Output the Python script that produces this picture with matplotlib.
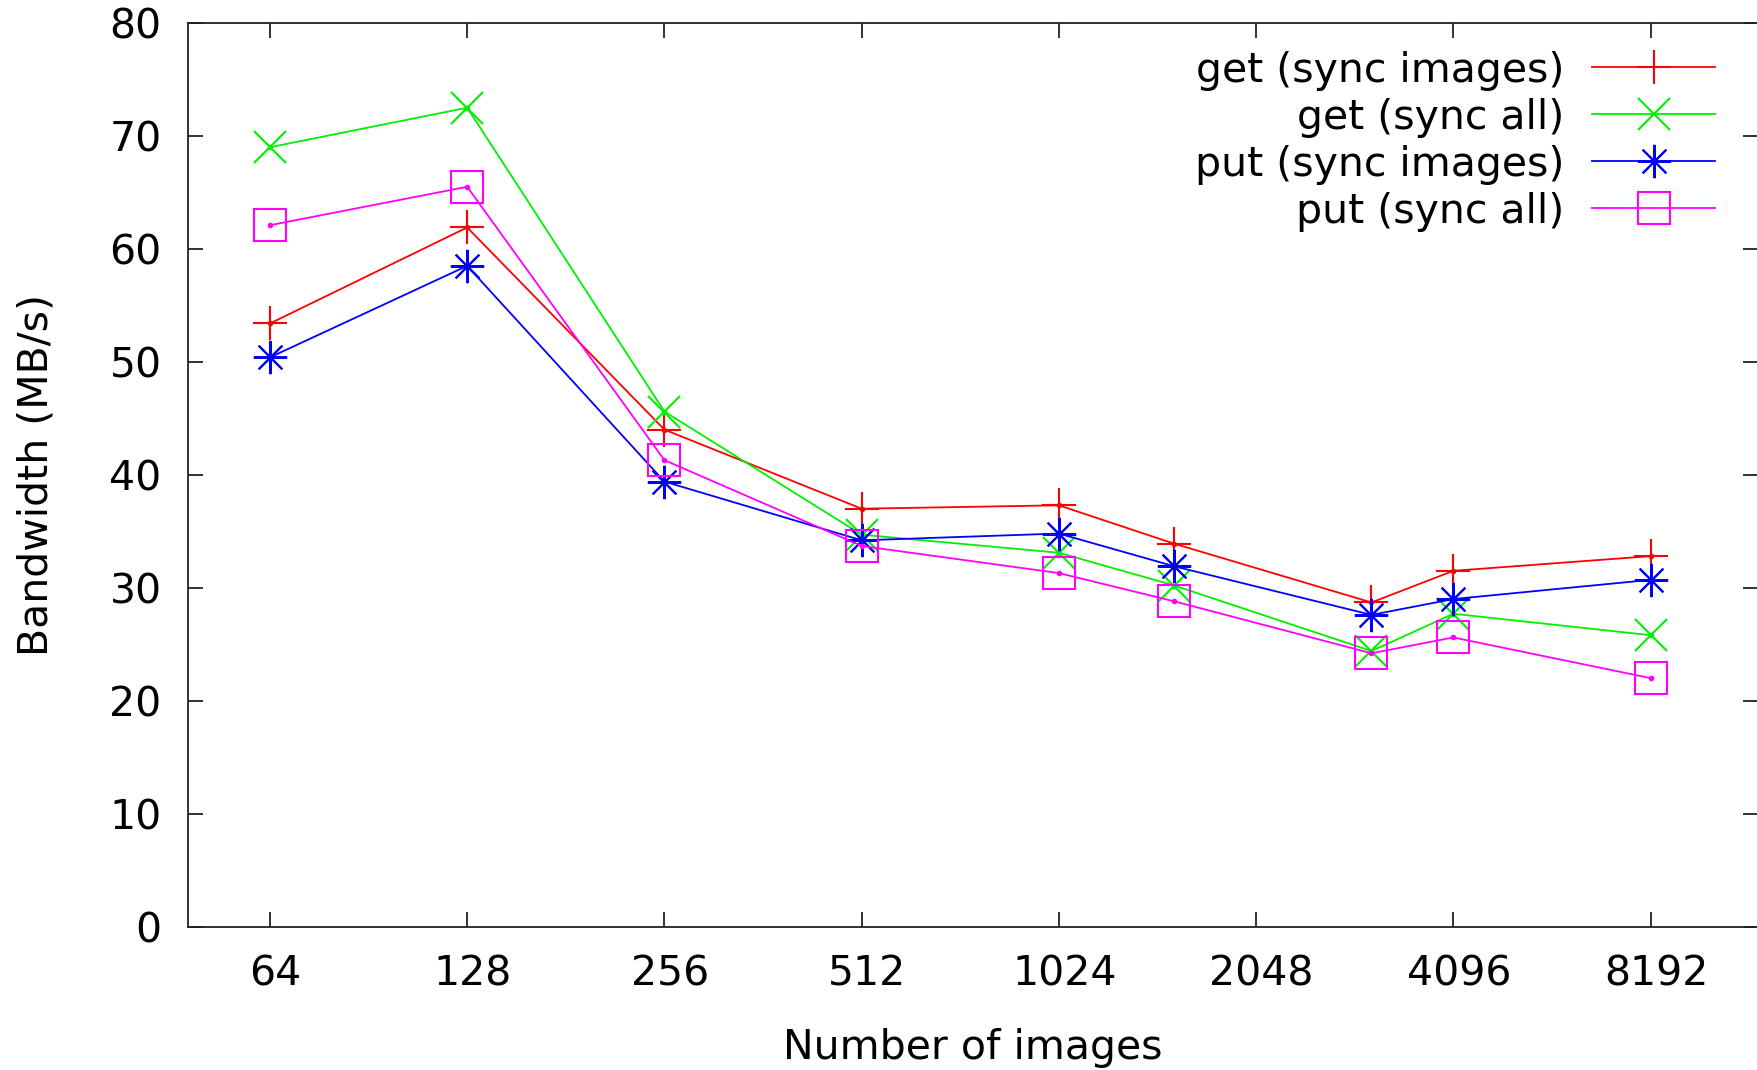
import matplotlib
matplotlib.use("Agg")
import matplotlib.pyplot as plt
from matplotlib.ticker import FixedLocator, FixedFormatter, NullLocator
from matplotlib.transforms import ScaledTranslation

# number of images (x) and bandwidth in MB/s per series
images = [64, 128, 256, 512, 1024, 1536, 3072, 4096, 8192]
get_sync_images = [53.4, 61.9, 44.0, 37.0, 37.3, 33.9, 28.7, 31.5, 32.8]
get_sync_all = [69.0, 72.5, 45.6, 34.7, 33.1, 30.2, 24.4, 27.7, 25.8]
put_sync_images = [50.4, 58.5, 39.4, 34.2, 34.8, 31.9, 27.6, 29.0, 30.7]
put_sync_all = [62.1, 65.5, 41.3, 33.7, 31.3, 28.8, 24.2, 25.6, 22.0]

xticks = [64, 128, 256, 512, 1024, 2048, 4096, 8192]
xtick_labels = [str(v) for v in xticks]
yticks = list(range(0, 81, 10))

FS = 29.5

plt.rcParams["font.family"] = "DejaVu Sans"
fig = plt.figure(figsize=(17.58, 10.70), dpi=100)
ax = fig.add_axes([0.107, 0.134, 0.893, 0.8445])

series = [
    ("get (sync images)", get_sync_images, "#ff0000", "+", 24),
    ("get (sync all)", get_sync_all, "#00f000", "x", 23),
    ("put (sync images)", put_sync_images, "#0000ff", (8, 2, 0), 24),
    ("put (sync all)", put_sync_all, "#ff00ff", "s", 23),
]
for label, vals, color, marker, ms in series:
    ax.plot(images, vals, color=color, lw=1.3, marker=marker, ms=ms,
            mew=1.5, mfc="none", mec=color, label=label)
    # gnuplot draws a small dot at each point centre
    ax.plot(images, vals, ls="none", marker="o", ms=3, color=color)

ax.set_xscale("log", base=2)
ax.set_xlim(48, 11950)
ax.set_ylim(0, 80)
ax.xaxis.set_major_locator(FixedLocator(xticks))
ax.xaxis.set_major_formatter(FixedFormatter(xtick_labels))
ax.xaxis.set_minor_locator(NullLocator())
ax.set_yticks(yticks)

for s in ["left", "bottom", "top"]:
    ax.spines[s].set_linewidth(1.3)
    ax.spines[s].set_color("#222222")
ax.spines["right"].set_visible(False)

ax.tick_params(axis="both", direction="in", length=11, width=1.3,
               color="#222222", labelsize=FS, top=True, right=True)
ax.tick_params(axis="x", pad=20)
ax.tick_params(axis="y", pad=19)

# gnuplot's labels sit a little right of the ticks
shift = ScaledTranslation(4 / 72, 0, fig.dpi_scale_trans)
for lab in ax.get_xticklabels():
    lab.set_transform(lab.get_transform() + shift)

ax.set_xlabel("Number of images", fontsize=FS, labelpad=24)
ax.set_ylabel("Bandwidth (MB/s)", fontsize=FS, labelpad=38)

leg = ax.legend(loc="upper right", bbox_to_anchor=(1.0, 1.017),
                frameon=False, markerfirst=False,
                fontsize=FS, handlelength=3.0, handletextpad=0.68,
                labelspacing=0.17, borderaxespad=0.75, borderpad=0.3)
for t in leg.get_texts():
    t.set_ha("right")

fig.savefig("out.png", dpi=100)
